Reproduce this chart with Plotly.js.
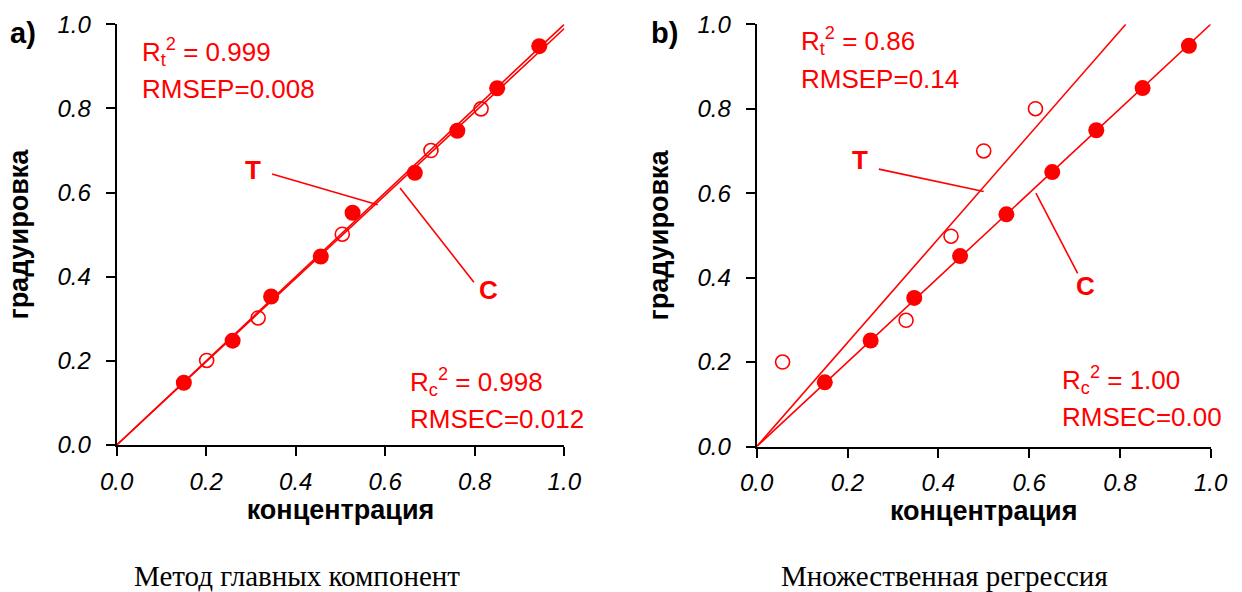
<!DOCTYPE html>
<html>
<head>
<meta charset="utf-8">
<script src="https://cdn.plot.ly/plotly-3.0.1.min.js"></script>
<style>html,body{margin:0;padding:0;background:#fff;}#chart{width:1242px;height:592px;}</style>
</head>
<body>
<div id="chart"></div>
<script>
// ---- data ----
// Panel a: Метод главных компонент
const aCalibX = [0.150, 0.259, 0.345, 0.456, 0.527, 0.666, 0.761, 0.850, 0.944];
const aCalibY = [0.148, 0.248, 0.353, 0.448, 0.552, 0.647, 0.747, 0.848, 0.948];
const aTestX  = [0.201, 0.316, 0.504, 0.702, 0.814];
const aTestY  = [0.201, 0.302, 0.501, 0.700, 0.799];
const aLineTX = [0, 1.0];
const aLineTY = [0, 1.0];
const aLineCX = [0, 1.0];
const aLineCY = [0, 0.99];

// Panel b: Множественная регрессия
const bCalibX = [0.150, 0.251, 0.347, 0.448, 0.550, 0.651, 0.748, 0.850, 0.952];
const bCalibY = [0.152, 0.251, 0.352, 0.451, 0.550, 0.650, 0.749, 0.849, 0.949];
const bTestX  = [0.057, 0.329, 0.428, 0.500, 0.614];
const bTestY  = [0.200, 0.299, 0.498, 0.700, 0.800];
const bLineTX = [0, 0.813];
const bLineTY = [0, 1.0];
const bLineCX = [0, 1.0];
const bLineCY = [0, 1.0];

const tickVals = [0, 0.2, 0.4, 0.6, 0.8, 1.0];
const tickText = ['0.0', '0.2', '0.4', '0.6', '0.8', '1.0'];

const xTitle = 'концентрация';
const yTitle = 'градуировка';
const captionA = 'Метод главных компонент';
const captionB = 'Множественная регрессия';

// ---- styles ----
const RED = '#ff0000';
const SANS = 'Liberation Sans, Arial, sans-serif';
const SERIF = 'Liberation Serif, Times New Roman, serif';
const W = 1242, H = 592;
const px = v => v / W;
const py = v => (H - v) / H;

function lineTrace(x, y, xa, ya) {
  return {x: x, y: y, xaxis: xa, yaxis: ya, mode: 'lines', type: 'scatter',
          line: {color: RED, width: 1.6}, hoverinfo: 'skip', showlegend: false};
}
function filled(x, y, xa, ya) {
  return {x: x, y: y, xaxis: xa, yaxis: ya, mode: 'markers', type: 'scatter',
          marker: {symbol: 'circle', size: 16, color: RED}, showlegend: false, cliponaxis: false};
}
function openM(x, y, xa, ya) {
  return {x: x, y: y, xaxis: xa, yaxis: ya, mode: 'markers', type: 'scatter',
          marker: {symbol: 'circle-open', size: 14, color: RED, line: {width: 1.6, color: RED}},
          showlegend: false, cliponaxis: false};
}

const data = [
  lineTrace(aLineTX, aLineTY, 'x', 'y'),
  lineTrace(aLineCX, aLineCY, 'x', 'y'),
  filled(aCalibX, aCalibY, 'x', 'y'),
  openM(aTestX, aTestY, 'x', 'y'),
  lineTrace(bLineTX, bLineTY, 'x2', 'y2'),
  lineTrace(bLineCX, bLineCY, 'x2', 'y2'),
  filled(bCalibX, bCalibY, 'x2', 'y2'),
  openM(bTestX, bTestY, 'x2', 'y2')
];

function xAxis(domain, anchor) {
  return {domain: domain, anchor: anchor, range: [0, 1], showgrid: false, zeroline: false,
          showline: true, linecolor: '#000', linewidth: 2, ticks: 'outside', ticklen: 9,
          tickwidth: 2, tickcolor: '#000', tickvals: tickVals, ticktext: tickText,
          ticklabelstandoff: 5,
          tickfont: {family: SANS, size: 24, color: '#000', style: 'italic'},
          title: {text: xTitle, standoff: 0, font: {family: SANS, size: 27, color: '#000', weight: 'bold'}},
          fixedrange: true};
}
function yAxis(domain, anchor) {
  return {domain: domain, anchor: anchor, range: [0, 1], showgrid: false, zeroline: false,
          showline: true, linecolor: '#000', linewidth: 2, ticks: 'outside', ticklen: 9,
          tickwidth: 2, tickcolor: '#000', tickvals: tickVals, ticktext: tickText,
          ticklabelstandoff: 10,
          tickfont: {family: SANS, size: 24, color: '#000', style: 'italic'},
          title: {text: yTitle, standoff: 21, font: {family: SANS, size: 27, color: '#000', weight: 'bold'}},
          fixedrange: true};
}

function txt(x, y, text, opts) {
  return Object.assign({x: x, y: y, xref: 'paper', yref: 'paper', text: text, showarrow: false,
    xanchor: 'left', yanchor: 'middle', font: {family: SANS, size: 26, color: RED}}, opts || {});
}

const annotations = [
  txt(px(23), py(33), '<b>a)</b>', {xanchor: 'center', font: {family: SANS, size: 29, color: '#000'}}),
  txt(px(664), py(33), '<b>b)</b>', {xanchor: 'center', font: {family: SANS, size: 29, color: '#000'}}),
  txt(px(140), py(52), 'R<sub>t</sub><sup>2</sup> = 0.999'),
  txt(px(140), py(89), 'RMSEP=0.008'),
  txt(px(408), py(382), 'R<sub>c</sub><sup>2</sup> = 0.998'),
  txt(px(408), py(419), 'RMSEC=0.012'),
  txt(px(799), py(41), 'R<sub>t</sub><sup>2</sup> = 0.86'),
  txt(px(799), py(79), 'RMSEP=0.14'),
  txt(px(1060), py(380), 'R<sub>c</sub><sup>2</sup> = 1.00'),
  txt(px(1060), py(417), 'RMSEC=0.00'),
  {x: 0.305, y: 0.654, xref: 'x', yref: 'y', text: '<b>T</b>', showarrow: false,
   font: {family: SANS, size: 26, color: RED}},
  {x: 0.830, y: 0.368, xref: 'x', yref: 'y', text: '<b>C</b>', showarrow: false,
   font: {family: SANS, size: 26, color: RED}},
  {x: 0.228, y: 0.679, xref: 'x2', yref: 'y2', text: '<b>T</b>', showarrow: false,
   font: {family: SANS, size: 26, color: RED}},
  {x: 0.725, y: 0.380, xref: 'x2', yref: 'y2', text: '<b>C</b>', showarrow: false,
   font: {family: SANS, size: 26, color: RED}},
  txt(px(297), py(576), captionA, {xanchor: 'center', font: {family: SERIF, size: 29, color: '#000'}}),
  txt(px(944), py(576), captionB, {xanchor: 'center', font: {family: SERIF, size: 29, color: '#000'}})
];

function seg(xref, yref, x0, y0, x1, y1) {
  return {type: 'line', xref: xref, yref: yref, x0: x0, y0: y0, x1: x1, y1: y1,
          line: {color: RED, width: 1.6}};
}
const shapes = [
  seg('x', 'y', 0.347, 0.644, 0.583, 0.571),
  seg('x', 'y', 0.633, 0.611, 0.798, 0.387),
  seg('x2', 'y2', 0.269, 0.657, 0.500, 0.604),
  seg('x2', 'y2', 0.615, 0.600, 0.707, 0.410)
];

const layout = {
  width: W, height: H,
  margin: {l: 0, r: 0, t: 0, b: 0, pad: 0},
  paper_bgcolor: '#fff', plot_bgcolor: '#fff',
  showlegend: false,
  xaxis: xAxis([px(116.7), px(564.3)], 'y'),
  yaxis: yAxis([py(445), py(24.3)], 'x'),
  xaxis2: xAxis([px(756.7), px(1210.7)], 'y2'),
  yaxis2: yAxis([py(446.5), py(24.3)], 'x2'),
  annotations: annotations,
  shapes: shapes
};

Plotly.newPlot('chart', data, layout, {displayModeBar: false, staticPlot: true});
</script>
</body>
</html>
